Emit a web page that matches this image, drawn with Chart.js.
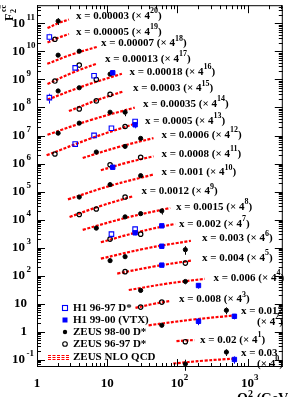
<!DOCTYPE html>
<html>
<head>
<meta charset="utf-8">
<script src="https://cdn.jsdelivr.net/npm/chart.js@4.4.1/dist/chart.umd.min.js"></script>
<style>
html, body { margin: 0; padding: 0; background: #fff; }
#c { display: block; }
</style>
</head>
<body>
<canvas id="c" width="288" height="397"></canvas>
<script>
// x bins and the 4^n offsets used to spread them out
const xBins = ['0.00003', '0.00005', '0.00007', '0.00013', '0.00018', '0.0003', '0.00035',
    '0.0005', '0.0006', '0.0008', '0.001', '0.0012', '0.0015', '0.002', '0.003', '0.004',
    '0.006', '0.008', '0.012', '0.02', '0.03'];
const scalePow = [20, 19, 18, 17, 16, 15, 14, 13, 12, 11, 10, 9, 8, 7, 6, 5, 4, 3, 2, 1, 0];

// NLO QCD curves (Q2, F2cc) per x bin
const nloQ2 = [
    [1.41, 2.0, 2.85], [1.41, 2.0, 2.85], [1.4, 3.16, 7.1], [1.41, 3.18, 7.14],
    [1.41, 4.73, 16.2], [2.85, 6.98, 17.3], [1.41, 5.94, 24.7], [1.37, 5.94, 25.5],
    [4.48, 14.2, 45.7], [8.13, 19.05, 45.7], [2.76, 11.3, 45.7], [2.91, 8.34, 23.9],
    [4.48, 18.7, 79.2], [8.13, 27.2, 93.1], [8.13, 35.3, 156], [13.9, 47.2, 156],
    [20.3, 70.7, 246], [25.3, 44.7, 79.2], [38.9, 161, 671], [97.1, 131, 176], [87.3, 242, 671]
];
const nloF2 = [
    [0.0619, 0.0918, 0.126], [0.0759, 0.111, 0.152], [0.0525, 0.114, 0.210], [0.0400, 0.1007, 0.215],
    [0.0444, 0.139, 0.371], [0.0693, 0.166, 0.356], [0.0397, 0.135, 0.369], [0.0293, 0.119, 0.400],
    [0.0942, 0.229, 0.482], [0.138, 0.256, 0.433], [0.0504, 0.156, 0.388], [0.0475, 0.120, 0.264],
    [0.0659, 0.178, 0.397], [0.0948, 0.218, 0.431], [0.0986, 0.227, 0.430], [0.116, 0.209, 0.335],
    [0.120, 0.202, 0.301], [0.111, 0.152, 0.196], [0.106, 0.168, 0.240], [0.115, 0.122, 0.125],
    [0.0733, 0.0929, 0.110]
];

// measurements: [x bin index, Q2, F2cc, error]
const h1Dstar = [
    [1, 1.5, 0.119, 0.035], [3, 3.5, 0.151, 0.03], [4, 1.5, 0.0522, 0.02], [4, 6.5, 0.315, 0.06],
    [7, 3.5, 0.0738, 0.015], [7, 6.5, 0.150, 0.03], [7, 11.5, 0.272, 0.05], [7, 25, 0.471, 0.1],
    [13, 11.5, 0.185, 0.05], [13, 25, 0.279, 0.05]
];
const h1Vtx = [
    [4, 12, 0.403, 0.05], [7, 25, 0.360, 0.09], [9, 12, 0.176, 0.03], [13, 25, 0.206, 0.04],
    [13, 60, 0.366, 0.06], [14, 60, 0.274, 0.05], [15, 60, 0.232, 0.04], [16, 200, 0.174, 0.04],
    [18, 200, 0.147, 0.04], [18, 650, 0.222, 0.05], [20, 650, 0.102, 0.03]
];
const zeus9800 = [
    [0, 2, 0.110, 0.03], [2, 2, 0.107, 0.015], [2, 4, 0.148, 0.02], [4, 2, 0.0904, 0.012],
    [4, 4, 0.118, 0.015], [4, 11, 0.361, 0.04], [6, 2, 0.0453, 0.008], [6, 4, 0.103, 0.012],
    [6, 11, 0.252, 0.03], [6, 18, 0.252, 0.07], [8, 7, 0.153, 0.02], [8, 18, 0.244, 0.03],
    [8, 30, 0.470, 0.06], [10, 4, 0.0608, 0.008], [10, 11, 0.169, 0.02], [10, 30, 0.352, 0.04],
    [12, 7, 0.0757, 0.01], [12, 18, 0.191, 0.02], [12, 30, 0.249, 0.03], [12, 60, 0.311, 0.08],
    [14, 11, 0.0838, 0.012], [14, 18, 0.116, 0.015], [14, 130, 0.206, 0.07], [16, 30, 0.116, 0.015],
    [16, 130, 0.242, 0.05], [18, 60, 0.106, 0.015], [18, 500, 0.361, 0.1], [20, 130, 0.0704, 0.03],
    [20, 500, 0.187, 0.05]
];
const zeus9697 = [
    [1, 1.8, 0.0986, 0.015], [3, 1.8, 0.0510, 0.008], [3, 4, 0.189, 0.03], [4, 7, 0.233, 0.03],
    [5, 4, 0.0830, 0.012], [5, 7, 0.160, 0.02], [5, 11, 0.274, 0.03], [7, 1.8, 0.0326, 0.005],
    [7, 18, 0.313, 0.04], [9, 11, 0.216, 0.025], [9, 30, 0.398, 0.05], [11, 4, 0.0582, 0.008],
    [11, 7, 0.0912, 0.012], [11, 18, 0.243, 0.03], [13, 11, 0.123, 0.015], [13, 30, 0.185, 0.025],
    [15, 18, 0.136, 0.02], [15, 130, 0.274, 0.04], [17, 30, 0.118, 0.015], [17, 60, 0.178, 0.02],
    [19, 130, 0.110, 0.015]
];

const xTickExp = [0, 1, 2, 3];
const yTickExp = [-1, 0, 1, 2, 3, 4, 5, 6, 7, 8, 9, 10, 11];

// where each bin label sits (pixels)
const labelPos = [[76, 16], [76, 32], [101, 43.5], [105, 59], [129.5, 72], [133, 88.5], [143, 104],
    [145, 121], [161.5, 135], [161.5, 154], [161.5, 172.5], [141.5, 191.5], [176, 207], [179, 224],
    [202, 238.5], [202, 258], [213.5, 278], [179, 299.5], [241, 311.5], [200, 340], [241, 353.5]];
const wrapPos = { 18: [257, 322], 20: [257, 364] };

const SERIF = '"Liberation Serif", "Times New Roman", serif';
const RED = '#ff0000';
const BLUE = '#0000ff';

function scaled(row, v) { return v * Math.pow(4, scalePow[row]); }

function toPoints(list) {
    return list.map(p => ({ x: p[1], y: scaled(p[0], p[2]), err: scaled(p[0], p[3]) }));
}

const datasets = [];

nloQ2.forEach((qs, i) => {
    datasets.push({
        type: 'line',
        data: qs.map((q, j) => ({ x: q, y: scaled(i, nloF2[i][j]) })),
        borderColor: RED,
        borderWidth: 2.2,
        borderDash: [3, 1.5],
        tension: 0.4,
        pointRadius: 0,
        fill: false,
        order: 5
    });
});

datasets.push({
    label: 'H1 96-97 D*', data: toPoints(h1Dstar), pointStyle: 'rect', pointRadius: 3.2,
    borderColor: BLUE, backgroundColor: 'rgba(0,0,0,0)', borderWidth: 1.1, errColor: BLUE, errGap: 2.8, order: 1
});
datasets.push({
    label: 'H1 99-00 (VTX)', data: toPoints(h1Vtx), pointStyle: 'rect', pointRadius: 3.1,
    borderColor: BLUE, backgroundColor: BLUE, borderWidth: 1, errColor: BLUE, errGap: 2.4, order: 1
});
datasets.push({
    label: 'ZEUS 98-00 D*', data: toPoints(zeus9800), pointStyle: 'circle', pointRadius: 2.1,
    borderColor: '#000', backgroundColor: '#000', borderWidth: 1, errColor: '#000', errGap: 2.2, order: 1
});
datasets.push({
    label: 'ZEUS 96-97 D*', data: toPoints(zeus9697), pointStyle: 'circle', pointRadius: 2.2,
    borderColor: '#000', backgroundColor: 'rgba(0,0,0,0)', borderWidth: 1.2, errColor: '#000', errGap: 2.8, order: 1
});

function drawRich(ctx, x, y, parts, size) {
    let cx = x;
    parts.forEach(([t, sup]) => {
        ctx.font = 'bold ' + (sup ? Math.round(size * 0.7) : size) + 'px ' + SERIF;
        ctx.fillText(t, cx, sup ? y - size * 0.42 : y);
        cx += ctx.measureText(t).width;
    });
}

const errorBars = {
    id: 'errorBars',
    afterDatasetsDraw(chart) {
        const { ctx, scales: { x, y } } = chart;
        ctx.save();
        ctx.lineWidth = 1;
        chart.data.datasets.forEach(ds => {
            if (!ds.errColor) return;
            ctx.strokeStyle = ds.errColor;
            ds.data.forEach(p => {
                const px = Math.round(x.getPixelForValue(p.x)) + 0.5;
                const py = y.getPixelForValue(p.y);
                const top = y.getPixelForValue(p.y + p.err);
                const bot = y.getPixelForValue(p.y - p.err);
                ctx.beginPath();
                if (py - top > ds.errGap) { ctx.moveTo(px, py - ds.errGap); ctx.lineTo(px, top); }
                if (bot - py > ds.errGap) { ctx.moveTo(px, py + ds.errGap); ctx.lineTo(px, bot); }
                ctx.stroke();
            });
        });
        ctx.restore();
    }
};

const frame = {
    id: 'frame',
    afterDraw(chart) {
        const { ctx, chartArea: a, scales: { x, y } } = chart;
        ctx.save();
        ctx.strokeStyle = '#000';
        ctx.lineWidth = 1;
        ctx.strokeRect(a.left + 0.5, a.top + 0.5, a.right - a.left - 1, a.bottom - a.top - 1);

        ctx.beginPath();
        for (let d = 0; d <= 3; d++) {
            for (let m = 1; m <= 9; m++) {
                const v = m * Math.pow(10, d);
                if (v > x.max) continue;
                const px = Math.round(x.getPixelForValue(v)) + 0.5;
                const len = m === 1 ? 8 : 4;
                ctx.moveTo(px, a.bottom); ctx.lineTo(px, a.bottom - len);
                ctx.moveTo(px, a.top); ctx.lineTo(px, a.top + len);
            }
        }
        for (let d = -2; d <= 11; d++) {
            for (let m = 1; m <= 9; m++) {
                const v = m * Math.pow(10, d);
                if (v < y.min || v > y.max) continue;
                const py = Math.round(y.getPixelForValue(v)) + 0.5;
                const len = m === 1 ? 8 : 4;
                ctx.moveTo(a.left, py); ctx.lineTo(a.left + len, py);
                ctx.moveTo(a.right, py); ctx.lineTo(a.right - len, py);
            }
        }
        ctx.stroke();

        // tick labels
        ctx.fillStyle = '#000';
        ctx.textBaseline = 'middle';
        yTickExp.forEach(n => {
            const py = y.getPixelForValue(Math.pow(10, n));
            ctx.font = 'bold 13px ' + SERIF;
            if (n === 0 || n === 1) {
                ctx.textAlign = 'right';
                ctx.fillText(n === 0 ? '1' : '10', 27, py);
            } else {
                ctx.textAlign = 'right';
                ctx.fillText('10', 25, py);
                ctx.textAlign = 'left';
                ctx.font = 'bold 9px ' + SERIF;
                ctx.fillText(String(n), 26.5, py - 6);
            }
        });
        xTickExp.forEach(n => {
            const px = x.getPixelForValue(Math.pow(10, n));
            ctx.font = 'bold 13px ' + SERIF;
            ctx.textAlign = 'center';
            if (n < 2) {
                ctx.fillText(n === 0 ? '1' : '10', px, 383.5);
            } else {
                ctx.fillText('10', px, 384);
                ctx.textAlign = 'left';
                ctx.font = 'bold 9px ' + SERIF;
                ctx.fillText(String(n), px + 6.5, 377.5);
            }
        });

        // bin labels
        ctx.textAlign = 'left';
        ctx.textBaseline = 'middle';
        labelPos.forEach(([lx, ly], i) => {
            const k = String(scalePow[i]);
            if (wrapPos[i]) {
                drawRich(ctx, lx, ly, [['x = ' + xBins[i], false]], 11);
                drawRich(ctx, wrapPos[i][0], wrapPos[i][1], [['(\u00d7 4', false], [k, true], [')', false]], 11);
            } else {
                drawRich(ctx, lx, ly, [['x = ' + xBins[i] + ' (\u00d7 4', false], [k, true], [')', false]], 11);
            }
        });

        // legend
        const legendY = [308, 320, 332, 344, 357];
        const mx = 65;
        ctx.lineWidth = 1.1;
        ctx.strokeStyle = BLUE;
        ctx.strokeRect(mx - 2.5, legendY[0] - 2.5, 5, 5);
        ctx.fillStyle = BLUE;
        ctx.fillRect(mx - 2.5, legendY[1] - 2.5, 5, 5);
        ctx.fillStyle = '#000';
        ctx.beginPath(); ctx.arc(mx, legendY[2], 2.2, 0, Math.PI * 2); ctx.fill();
        ctx.strokeStyle = '#000';
        ctx.beginPath(); ctx.arc(mx, legendY[3], 2.3, 0, Math.PI * 2); ctx.stroke();
        ctx.strokeStyle = RED;
        ctx.lineWidth = 1.2;
        ctx.setLineDash([3, 1.5]);
        [-2, 0, 2].forEach(dy => {
            ctx.beginPath(); ctx.moveTo(48, legendY[4] + dy + 0.5); ctx.lineTo(70, legendY[4] + dy + 0.5); ctx.stroke();
        });
        ctx.setLineDash([]);
        const names = ['H1 96-97 D*', 'H1 99-00 (VTX)', 'ZEUS 98-00 D*', 'ZEUS 96-97 D*', 'ZEUS NLO QCD'];
        ctx.fillStyle = '#000';
        ctx.font = 'bold 11px ' + SERIF;
        names.forEach((t, i) => ctx.fillText(t, 73, legendY[i]));

        // axis titles
        ctx.textBaseline = 'alphabetic';
        drawRich(ctx, 237, 403, [['Q', false], ['2', true], [' (GeV', false], ['2', true], [')', false]], 14);

        ctx.save();
        ctx.translate(12.5, 21);
        ctx.rotate(-Math.PI / 2);
        ctx.font = 'bold 12px ' + SERIF;
        ctx.fillText('F', 0, 0);
        ctx.font = 'bold 8px ' + SERIF;
        ctx.fillText('2', 8, 3);
        ctx.fillText('cc', 9, -7);
        ctx.lineWidth = 0.8;
        ctx.strokeStyle = '#000';
        ctx.beginPath(); ctx.moveTo(12.5, -12.5); ctx.lineTo(16, -12.5); ctx.stroke();
        ctx.restore();

        ctx.restore();
    }
};

new Chart(document.getElementById('c'), {
    type: 'scatter',
    data: { datasets },
    options: {
        responsive: false,
        animation: false,
        devicePixelRatio: 1,
        layout: { padding: { left: 37, top: 3, right: 2, bottom: 30 } },
        plugins: { legend: { display: false }, tooltip: { enabled: false } },
        scales: {
            x: { type: 'logarithmic', min: 1, max: 3180, display: false },
            y: { type: 'logarithmic', min: 0.0551, max: 4.46e11, display: false }
        }
    },
    plugins: [errorBars, frame]
});
</script>
</body>
</html>
